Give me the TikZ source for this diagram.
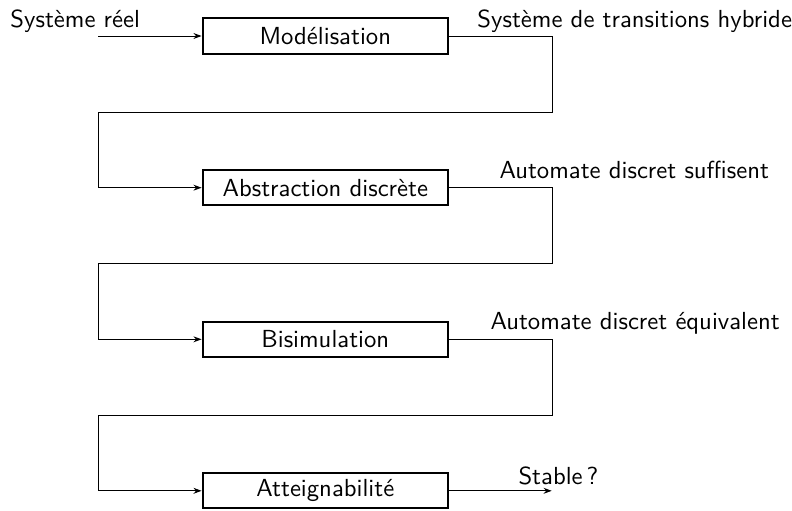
\documentclass[tikz,border=0pt]{standalone}
\usetikzlibrary{arrows.meta}
\begin{document}
\begin{tikzpicture}[x=0.405pt,y=-0.405pt,font=\sffamily,
  stage/.style={draw,line width=0.8pt,minimum width=99.4pt,minimum height=14.2pt,inner sep=0pt},
  flow/.style={-{Stealth[length=3.3pt,width=2.4pt]}},
  lbl/.style={anchor=base west,inner sep=0pt}]
\useasboundingbox (0,0) rectangle (792,510);

% processing stages
\node[stage] (mod) at (325.3,36)    {Modélisation};
\node[stage] (abs) at (325.3,187.7) {Abstraction discrète};
\node[stage] (bis) at (325.3,339.3) {Bisimulation};
\node[stage] (att) at (325.3,490.8) {Atteignabilité};

% turning points of the routing between stages
\coordinate (in)  at (98.3,36);
\coordinate (r1)  at (552.7,112);
\coordinate (l1)  at (98.3,112);
\coordinate (r2)  at (552.7,263.5);
\coordinate (l2)  at (98.3,263.5);
\coordinate (r3)  at (552.7,415);
\coordinate (l3)  at (98.3,415);
\coordinate (out) at (551.7,490.8);

% connectors
\draw[flow] (in) -- (mod.west);
\draw[flow] (mod.east) -| (r1) -- (l1) |- (abs.west);
\draw[flow] (abs.east) -| (r2) -- (l2) |- (bis.west);
\draw[flow] (bis.east) -| (r3) -- (l3) |- (att.west);
\draw[flow] (att.east) -- (out);

% labels
\node[lbl] (t0) at (10,27)    {Système réel};
\node[lbl] (t1) at (477,27)   {Système de transitions hybride};
\node[lbl] (t2) at (499,178)  {Automate discret suffisent};
\node[lbl] (t3) at (490,329)  {Automate discret équivalent};
\node[lbl] (t4) at (518,484)  {Stable\,?};
\end{tikzpicture}
\end{document}
